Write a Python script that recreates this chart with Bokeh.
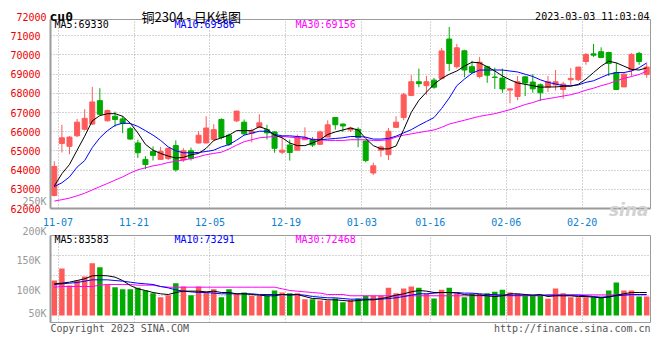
from bokeh.plotting import figure
from bokeh.models import ColumnDataSource, Range1d, FixedTicker, Label, NumeralTickFormatter, GridBox
from bokeh.embed import file_html
from bokeh.resources import INLINE

dates = ["11-07","11-08","11-09","11-10","11-11","11-14","11-15","11-16","11-17","11-18",
         "11-21","11-22","11-23","11-24","11-25","11-28","11-29","11-30","12-01","12-02",
         "12-05","12-06","12-07","12-08","12-09","12-12","12-13","12-14","12-15","12-16",
         "12-19","12-20","12-21","12-22","12-23","12-26","12-27","12-28","12-29","12-30",
         "01-03","01-04","01-05","01-06","01-09","01-10","01-11","01-12","01-13","01-16",
         "01-17","01-18","01-19","01-20","01-30","01-31","02-01","02-02","02-03","02-06",
         "02-07","02-08","02-09","02-10","02-13","02-14","02-15","02-16","02-17","02-20",
         "02-21","02-22","02-23","02-24","02-27","02-28","03-01","03-02","03-03"]

open_ = [62680, 65390, 65240, 65790, 66130, 66400, 67620, 66570, 66810, 66670,
         66160, 65415, 64560, 64970, 64560, 64600, 65280, 64530, 65010, 65415,
         65415, 65600, 66640, 65823, 66567, 66500, 65925, 66230, 66108, 65990,
         64935, 65310, 65040, 65583, 65583, 65345, 65720, 66740, 66400, 66090,
         66130, 65517, 63850, 65038, 64803, 66230, 66740, 67892, 68606, 68400,
         68690, 68780, 70830, 69390, 70220, 69390, 68880, 69390, 68850, 68795,
         68170, 67840, 68860, 68590, 68450, 68320, 68440, 68200, 68710, 68710,
         69660, 70060, 70170, 70130, 69085, 68335, 69217, 70080, 68980]
high = [64460, 66360, 65770, 66670, 67180, 68335, 68270, 67150, 67050, 66810,
        66260, 65583, 64730, 65240, 65210, 65175, 65550, 65140, 65175, 66030,
        66806, 66400, 66700, 65900, 67100, 66638, 66160, 66908, 66363, 66026,
        65720, 65583, 65857, 66230, 65720, 66060, 66600, 66740, 66430, 66260,
        66230, 65550, 64395, 65277, 66195, 66806, 68030, 68950, 69290, 68911,
        68800, 70370, 71460, 70578, 70270, 69700, 69900, 69430, 69340, 69290,
        68270, 68900, 68911, 69000, 68520, 68911, 69217, 68600, 69320, 69370,
        70100, 70578, 70400, 70170, 69600, 69085, 70100, 70170, 69560]
low = [62630, 64920, 64830, 65720, 66060, 66360, 66870, 66540, 66260, 65925,
       65580, 64630, 64050, 64500, 64560, 64530, 63920, 64430, 64500, 65380,
       65400, 65500, 65600, 65250, 66500, 65823, 65445, 66195, 65600, 64905,
       64834, 64497, 65030, 65583, 65210, 65310, 65720, 66108, 65990, 65990,
       65190, 64410, 63748, 64700, 64528, 66195, 66600, 67850, 68320, 67928,
       68240, 68707, 69166, 69290, 68840, 69050, 68780, 68550, 68230, 68030,
       67480, 67640, 67860, 68030, 67610, 68070, 68150, 67720, 68440, 68640,
       69490, 69900, 69865, 68900, 68200, 68335, 68900, 69490, 68810]
close = [64190, 65685, 65720, 66500, 66700, 67555, 66910, 67110, 66640, 66430,
         65620, 64905, 64290, 64770, 64970, 65140, 64020, 65010, 64600, 65820,
         66195, 66110, 65700, 65345, 67076, 65890, 66026, 66465, 65940, 65136,
         65038, 64920, 65720, 65685, 65310, 65990, 66363, 66363, 66300, 66195,
         65685, 64497, 64222, 65210, 66026, 66500, 67928, 68606, 68504, 68606,
         68320, 70214, 69560, 70375, 69217, 69085, 69625, 68950, 68830, 68230,
         68235, 68606, 68540, 68235, 68030, 68606, 68606, 68490, 68780, 69370,
         70030, 69990, 69865, 69560, 68200, 69000, 70030, 69660, 69370]

ma5 = [63172, 63815, 64293, 65038, 65770, 66567, 66840, 66942, 66942, 66806,
       66450, 65940, 65345, 65038, 64870, 64732, 64630, 64665, 64800, 64870,
       65140, 65547, 65685, 65823, 66057, 66057, 66057, 66262, 66128, 65823,
       65685, 65415, 65277, 65277, 65415, 65583, 65857, 65990, 66093, 66195,
       66093, 65650, 65277, 65108, 65108, 65260, 66108, 67010, 67637, 68065,
       68473, 68780, 68998, 69166, 69420, 69625, 69590, 69390, 69166, 68911,
       68707, 68540, 68473, 68402, 68320, 68335, 68335, 68370, 68370, 68473,
       68743, 69085, 69420, 69675, 69590, 69420, 69250, 69217, 69330]
ma10 = [63137, 63340, 63646, 64156, 64497, 65175, 65685, 66057, 66330, 66450,
        66430, 66280, 66057, 65823, 65547, 65210, 65007, 64905, 64905, 64920,
        64971, 65038, 65210, 65330, 65560, 65823, 65925, 66026, 66026, 65857,
        65787, 65787, 65752, 65720, 65583, 65583, 65618, 65650, 65685, 65752,
        65752, 65720, 65618, 65618, 65650, 65770, 65940, 66108, 66330, 66536,
        66740, 67214, 67760, 68402, 68743, 69050, 69217, 69217, 69217, 69217,
        69166, 69115, 68998, 68880, 68707, 68575, 68490, 68402, 68402, 68440,
        68575, 68656, 68830, 68998, 69085, 69085, 69166, 69340, 69586]
ma30 = [62387, 62460, 62540, 62662, 62795, 62968, 63137, 63305, 63478, 63646,
        63850, 64018, 64120, 64222, 64293, 64395, 64462, 64528, 64600, 64700,
        64803, 64870, 64935, 65100, 65300, 65480, 65583, 65685, 65720, 65752,
        65752, 65720, 65685, 65650, 65618, 65583, 65547, 65547, 65547, 65583,
        65583, 65583, 65547, 65547, 65583, 65720, 65823, 65890, 65960, 66026,
        66093, 66230, 66400, 66500, 66600, 66704, 66806, 66873, 66942, 67046,
        67150, 67280, 67418, 67520, 67657, 67724, 67790, 67860, 67928, 68030,
        68167, 68270, 68402, 68504, 68656, 68780, 68880, 68982, 69156]

# volume in thousands of lots
volume = [116.9, 137.3, 108.5, 116.9, 123.7, 146.3, 139.5, 110.2, 105.6, 102.3,
          102.3, 104.5, 100.0, 95.5, 88.7, 92.1, 112.4, 106.8, 92.1, 106.8,
          96.6, 102.3, 88.7, 102.3, 94.4, 96.6, 91.0, 91.0, 91.0, 100.0,
          96.6, 95.5, 95.5, 85.3, 85.3, 83.1, 83.1, 86.4, 80.2, 84.2,
          86.4, 91.0, 91.0, 91.0, 104.5, 95.5, 103.4, 106.8, 104.5, 94.4,
          86.4, 101.1, 104.5, 94.4, 88.7, 94.4, 94.4, 95.5, 97.7, 101.1,
          96.6, 94.4, 91.0, 91.0, 91.0, 85.9, 103.4, 95.5, 88.7, 88.7,
          88.7, 88.7, 88.7, 100.0, 113.6, 100.0, 100.0, 89.8, 89.8]
vma5 = [111.3, 112.4, 114.1, 116.9, 119.8, 124.9, 125.4, 124.9, 122.6, 116.9,
        108.5, 102.8, 100.0, 96.6, 94.4, 93.2, 96.6, 98.9, 98.9, 98.9,
        97.7, 98.9, 96.6, 96.6, 94.4, 94.4, 93.2, 92.1, 91.0, 91.0,
        93.2, 92.1, 93.2, 89.8, 86.4, 85.9, 84.2, 84.2, 83.1, 81.9,
        83.1, 84.2, 84.2, 86.4, 88.7, 92.1, 94.4, 97.7, 100.0, 98.9,
        96.6, 96.6, 96.6, 95.5, 93.2, 92.1, 92.1, 91.0, 89.8, 91.0,
        94.4, 94.4, 93.2, 92.1, 93.2, 89.8, 91.0, 91.0, 91.0, 89.8,
        89.8, 88.7, 87.6, 88.7, 92.1, 94.4, 96.6, 96.6, 96.6]
vma10 = [110.2, 111.3, 112.4, 113.6, 115.8, 118.1, 118.1, 118.1, 116.9, 115.8,
         114.1, 112.4, 111.3, 110.2, 106.8, 104.5, 101.1, 98.9, 97.7, 96.6,
         96.6, 95.5, 94.4, 94.4, 94.4, 94.4, 94.4, 93.2, 93.2, 93.2,
         93.2, 93.2, 93.2, 92.1, 89.8, 88.7, 87.6, 87.6, 86.4, 85.3,
         85.3, 85.3, 85.3, 85.3, 86.4, 87.6, 89.8, 92.1, 94.4, 94.4,
         95.5, 96.6, 96.6, 96.6, 95.5, 95.5, 94.4, 93.2, 93.2, 92.1,
         92.1, 92.1, 92.1, 92.1, 92.1, 92.1, 92.1, 92.1, 92.1, 92.1,
         91.0, 89.8, 88.7, 89.8, 91.0, 92.1, 93.2, 93.2, 93.2]
vma30 = [105.6, 106.8, 106.8, 106.8, 106.8, 106.8, 109.0, 110.2, 110.2, 110.2,
         110.2, 109.0, 109.0, 109.0, 106.8, 105.6, 105.6, 105.6, 105.6, 105.6,
         105.6, 105.6, 105.6, 105.6, 105.6, 105.6, 105.6, 105.6, 105.6, 105.6,
         102.8, 100.0, 98.9, 97.7, 96.6, 95.5, 93.2, 93.2, 93.2, 91.0,
         91.0, 91.0, 91.0, 91.0, 91.0, 91.0, 91.0, 91.0, 91.0, 91.0,
         91.0, 91.0, 91.0, 91.0, 91.0, 91.0, 91.0, 91.0, 91.0, 91.0,
         91.0, 91.0, 91.0, 91.0, 91.0, 92.6, 92.6, 92.6, 92.6, 92.6,
         92.6, 92.6, 92.6, 92.6, 92.6, 92.6, 92.6, 92.6, 92.6]

price_ticks = [62000, 63000, 64000, 65000, 66000, 67000, 68000, 69000, 70000, 71000]
price_top_label = "72000"
date_ticks = ["11-07", "11-21", "12-05", "12-19", "01-03", "01-16", "02-06", "02-20"]
vol_ticks = [100, 150]
vol_tick_labels = {100: "100K", 150: "150K"}
vol_extra_labels = ["250K", "200K", "50K"]
ma_labels = ["MA5:69330", "MA10:69586", "MA30:69156"]
vma_labels = ["MA5:83583", "MA10:73291", "MA30:72468"]
header = ["cu0", "铜2304 - 日K线图", "2023-03-03 11:03:04"]
footer = ["Copyright 2023 SINA.COM", "http://finance.sina.com.cn"]

RED = "#ff5a5a"
GREEN = "#00aa00"
GRID = "#a8a8a8"
FRAME = "#9a9a9a"
MONO = "DejaVu Sans Mono"
MA_COLORS = ["#000000", "#0000ff", "#ff00ff"]

n = len(dates)
idx = list(range(n))
colors = [RED if c >= o else GREEN for o, c in zip(open_, close)]
src = ColumnDataSource(dict(
    x=idx, o=open_, h=high, l=low, c=close,
    top=[max(o, c) for o, c in zip(open_, close)],
    bot=[min(o, c) for o, c in zip(open_, close)],
    color=colors, ma5=ma5, ma10=ma10, ma30=ma30,
    vol=volume, vma5=vma5, vma10=vma10, vma30=vma30,
))

xr = Range1d(-0.5, n - 0.5)
tick_pos = [dates.index(d) + 0.5 for d in date_ticks]

def style(fig):
    fig.outline_line_color = FRAME
    fig.outline_line_width = 1
    fig.background_fill_color = "white"
    fig.border_fill_color = "white"
    fig.xgrid.ticker = FixedTicker(ticks=tick_pos)
    fig.xgrid.grid_line_color = GRID
    fig.xgrid.grid_line_dash = "1 2"
    fig.ygrid.grid_line_color = GRID
    fig.ygrid.grid_line_dash = "1 2"
    for ax in (fig.xaxis[0], fig.yaxis[0]):
        ax.major_tick_line_color = None
        ax.minor_tick_line_color = None
        ax.axis_line_color = FRAME
        ax.axis_line_width = 2
        ax.major_label_text_font = MONO
        ax.major_label_text_font_size = "10px"

W = 660
# ---------------- price panel ----------------
H1 = 228
p = figure(width=W, height=H1, x_range=xr, y_range=Range1d(62000, 71850),
           output_backend="svg", toolbar_location=None,
           min_border_left=50, min_border_right=10, min_border_top=19, min_border_bottom=15)
style(p)
p.yaxis.ticker = FixedTicker(ticks=price_ticks)
p.yaxis.formatter = NumeralTickFormatter(format="0")
p.yaxis.major_label_text_color = "#ee0000"
p.yaxis.major_label_standoff = 4
p.ygrid.ticker = FixedTicker(ticks=price_ticks[1:])
p.xaxis.ticker = FixedTicker(ticks=tick_pos)
p.xaxis.major_label_overrides = {t: d for t, d in zip(tick_pos, date_ticks)}
p.xaxis.major_label_text_color = "#0a7fd2"
p.xaxis.major_label_standoff = 3

p.segment(x0="x", y0="l", x1="x", y1="h", color="color", line_width=1, source=src)
p.vbar(x="x", width=0.66, top="top", bottom="bot", fill_color="color",
       line_color="color", line_width=1, source=src)
for col, c in zip(["ma30", "ma10", "ma5"], MA_COLORS[::-1]):
    p.line("x", col, color=c, line_width=1, source=src)

# ---------------- volume panel ----------------
H2 = 132
# volume axis: frame spans 235..322 px; data area (bar base) ends at 315 px
VTOP, VBOT, VBASE = 193.22, 45.76, 57.6
q = figure(width=W, height=H2, x_range=xr, y_range=Range1d(VBOT, VTOP),
           output_backend="svg", toolbar_location=None,
           min_border_left=50, min_border_right=10, min_border_top=7, min_border_bottom=38)
style(q)
q.xaxis.visible = False
q.yaxis.ticker = FixedTicker(ticks=vol_ticks)
q.yaxis.major_label_overrides = vol_tick_labels
q.yaxis.major_label_text_color = "#999999"
q.yaxis.major_label_standoff = 4
q.ygrid.ticker = FixedTicker(ticks=[VTOP - k * (VTOP - VBASE) / 4 for k in (1, 2, 3)])

q.vbar(x="x", width=0.72, top="vol", bottom=VBASE, fill_color="color",
       line_color=None, source=src)
for col, c in zip(["vma30", "vma10", "vma5"], MA_COLORS[::-1]):
    q.line("x", col, color=c, line_width=1, source=src)

# ---------------- transparent text overlay (page pixel coordinates) ----------------
t = figure(width=W, height=H1 + H2, x_range=Range1d(0, W), y_range=Range1d(H1 + H2, 0),
           output_backend="svg", toolbar_location=None, min_border=0,
           x_axis_location=None, y_axis_location=None)
t.frame_align = False
t.background_fill_alpha = 0
t.border_fill_alpha = 0
t.outline_line_color = None
t.grid.visible = False

def lab(text, x, y, color="#000000", size="10px", font=MONO, align="left",
        baseline="middle", style_="normal"):
    t.add_layout(Label(x=x, y=y, text=text, text_color=color, text_font_size=size,
                       text_font=font, text_align=align, text_baseline=baseline,
                       text_font_style=style_))

lab(price_top_label, 46, 16, color="#ee0000", align="right")
lab(header[0], 49, 15.5, size="13px", style_="bold", baseline="alphabetic")
lab(header[1], 141, 15.5, size="13px", font="Noto Sans CJK SC", baseline="alphabetic")
lab(header[2], 649, 16, align="right", baseline="alphabetic")
for s, xx, c in zip(ma_labels, (54, 174, 295), MA_COLORS):
    lab(s, xx, 24, color=c)
for s, xx, c in zip(vma_labels, (54, 174, 295), MA_COLORS):
    lab(s, xx, 239, color=c)
for s, yy in zip(vol_extra_labels, (200.5, 231, 312.5)):
    lab(s, 46, yy, color="#999999", align="right")
lab("sina", 648, 209, color="#d2d2d2", size="17px", font="DejaVu Sans",
    align="right", baseline="alphabetic", style_="bold italic")
lab(footer[0], 50, 328, color="#555555")
lab(footer[1], 650, 328, color="#555555", align="right")

layout = GridBox(children=[(p, 0, 0), (q, 1, 0), (t, 0, 0, 2, 1)], spacing=0)
open("out.html", "w").write(file_html(layout, INLINE))
